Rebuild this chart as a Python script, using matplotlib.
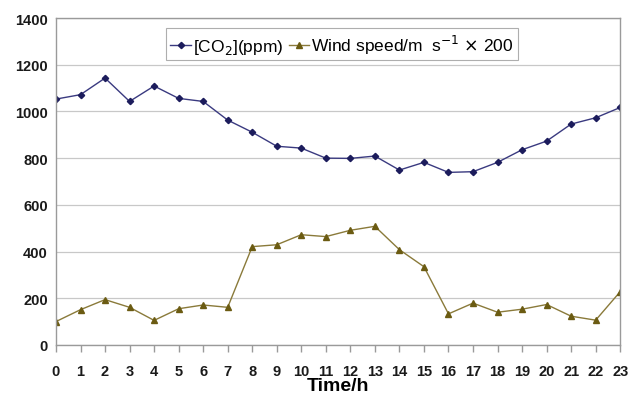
import numpy as np
import matplotlib
matplotlib.use("Agg")
import matplotlib.pyplot as plt

plt.rcParams['font.family'] = ['Liberation Sans', 'DejaVu Sans']

# hourly readings
hours = np.arange(24)
co2_ppm = [1053, 1072, 1143, 1043, 1109, 1056, 1043, 963, 911, 851, 843, 800,
           799, 809, 749, 782, 739, 742, 782, 836, 873, 946, 973, 1017]
wind_x200 = [100, 151, 194, 161, 105, 155, 171, 161, 421, 429, 472, 464,
             491, 508, 408, 335, 133, 179, 140, 153, 173, 123, 106, 228]
y_ticks = [0, 200, 400, 600, 800, 1000, 1200, 1400]

fig = plt.figure(figsize=(6.29, 4.06), dpi=100)
ax = fig.add_axes([0.089, 0.148, 0.897, 0.805])

ax.plot(hours, co2_ppm, color='#3a3a80', lw=1.0, marker='D', ms=3.2,
        mfc='#1c1c5c', mec='#1c1c5c', label=r'[CO$_2$](ppm)')
ax.plot(hours, wind_x200, color='#8a7a3a', lw=1.0, marker='^', ms=5,
        mfc='#6b5b12', mec='#6b5b12',
        label=r'Wind speed/m  s$^{-1}$ $\times$ 200')

ax.set_xlim(0, 23)
ax.set_ylim(0, 1400)
ax.set_yticks(y_ticks)
ax.set_xticks(hours)
ax.yaxis.grid(True, color='#c8c8c8', lw=0.9)
ax.set_axisbelow(True)
for s in ax.spines.values():
    s.set_color('#9a9a9a')
    s.set_linewidth(1.0)

ax.tick_params(axis='both', labelsize=10.5, length=5, color='#9a9a9a', width=1.0)
ax.tick_params(axis='y', length=0, pad=6)
ax.tick_params(axis='x', pad=9)
for lbl in ax.get_xticklabels() + ax.get_yticklabels():
    lbl.set_fontweight('bold')
    lbl.set_color('#1a1a1a')

ax.set_xlabel('Time/h', fontsize=14, fontweight='bold', labelpad=-1)

leg = ax.legend(loc='upper center', bbox_to_anchor=(0.507, 0.985), ncol=2,
                fontsize=12.5, frameon=True, fancybox=False,
                handlelength=1.2, handletextpad=0.1, columnspacing=0.3,
                borderpad=0.25, borderaxespad=0.3)
leg.get_frame().set_edgecolor('#9a9a9a')
leg.get_frame().set_linewidth(0.8)

fig.savefig('out.png', dpi=100)
